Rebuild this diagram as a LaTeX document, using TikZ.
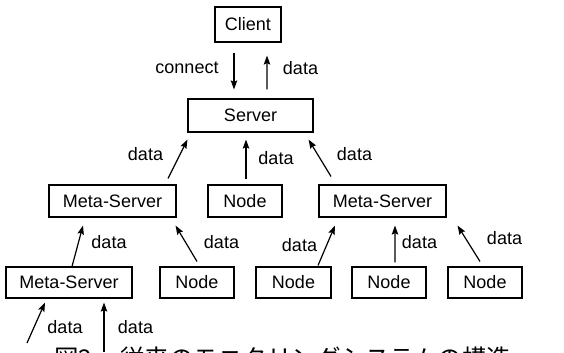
\documentclass[tikz,border=0pt]{standalone}
\usepackage{fontspec}
\setmainfont{Liberation Sans}
\newfontfamily\cjk{Noto Sans CJK JP}
\usetikzlibrary{arrows.meta}

\tikzset{
  box/.style={draw, line width=1.1bp, inner sep=0pt, minimum height=32bp,
              font=\fontsize{18bp}{20bp}\selectfont},
  lbl/.style={inner sep=0pt, font=\fontsize{18bp}{20bp}\selectfont},
  arr/.style={line width=1.2bp,
              -{Stealth[length=9bp,width=6.5bp,inset=1.5bp]}},
  captext/.style={anchor=base west, inner sep=0pt,
              font=\cjk\fontsize{24.5bp}{26bp}\selectfont},
}

\begin{document}
\begin{tikzpicture}[x=1bp,y=-1bp]
  \useasboundingbox (0,0) rectangle (564,352);
  \clip (0,0) rectangle (564,352);

  % top: client and server
  \node[box, minimum width=66bp, minimum height=35bp] (client) at (248,24.5) {Client};
  \node[box, minimum width=125bp, minimum height=33bp] (server) at (250.5,115.5) {Server};

  % second row
  \node[box, minimum width=127bp] (ms1) at (112.5,201) {Meta-Server};
  \node[box, minimum width=74bp]  (n1)  at (245,201)   {Node};
  \node[box, minimum width=127bp] (ms2) at (382.5,201) {Meta-Server};

  % third row
  \node[box, minimum width=126bp, minimum height=31bp] (ms3) at (69,282.5)  {Meta-Server};
  \node[box, minimum width=74bp,  minimum height=31bp] (n2)  at (197,282.5) {Node};
  \node[box, minimum width=75bp,  minimum height=31bp] (n3)  at (293.5,282.5) {Node};
  \node[box, minimum width=74bp,  minimum height=31bp] (n4)  at (389,282.5) {Node};
  \node[box, minimum width=74bp,  minimum height=31bp] (n5)  at (485,282.5) {Node};

  % incoming feeds below the lowest meta-server
  \coordinate (in1) at (27,343);
  \coordinate (in2) at (104,352);

  % client <-> server
  \draw[arr] ([shift={(-14,10)}]client.south) -- ([shift={(-16.5,-9)}]server.north);
  \draw[arr] ([shift={(16.5,-9)}]server.north) -- ([shift={(19,13)}]client.south);
  \node[lbl] (lconnect) at (187,68) {connect};
  \node[lbl] (ltop) at (300.5,68) {data};

  % second row -> server
  \draw[arr] ([shift={(55.5,-6)}]ms1.north) -- ([shift={(0,7)}]server.south west);
  \draw[arr] ([shift={(1,-5)}]n1.north) -- ([shift={(-4.5,7)}]server.south);
  \draw[arr] ([shift={(-51.5,-8)}]ms2.north) -- ([shift={(-5,7)}]server.south east);
  \node[lbl] (l1) at (145.5,154) {data};
  \node[lbl] (l2) at (276,158) {data};
  \node[lbl] (l3) at (354.5,154) {data};

  % third row -> second row
  \draw[arr] ([shift={(3,0)}]ms3.north) -- ([shift={(-29.5,8)}]ms1.south);
  \draw[arr] ([shift={(0,-5)}]n2.north) -- ([shift={(-1,8)}]ms1.south east);
  \draw[arr] ([shift={(24.5,-1)}]n3.north) -- ([shift={(-47.5,8)}]ms2.south);
  \draw[arr] ([shift={(6,-4)}]n4.north) -- ([shift={(12.5,8)}]ms2.south);
  \draw[arr] ([shift={(-5,-5)}]n5.north) -- ([shift={(11,8)}]ms2.south east);
  \node[lbl] (l4) at (109,242) {data};
  \node[lbl] (l5) at (221.5,242) {data};
  \node[lbl] (l6) at (299.5,245) {data};
  \node[lbl] (l7) at (419.5,242) {data};
  \node[lbl] (l8) at (504.5,238) {data};

  % feeds into the lowest meta-server
  \draw[arr] (in1) -- ([shift={(-24,4)}]ms3.south);
  \draw[arr] (in2) -- ([shift={(35,4)}]ms3.south);
  \node[lbl] (l9) at (65,327) {data};
  \node[lbl] (l10) at (135.5,327) {data};

  % caption, running off the lower edge
  \node[captext] (fig) at (54,367) {図2};
  \node[captext] (caption) at (120,367) {従来のモニタリングシステムの構造};
\end{tikzpicture}
\end{document}
